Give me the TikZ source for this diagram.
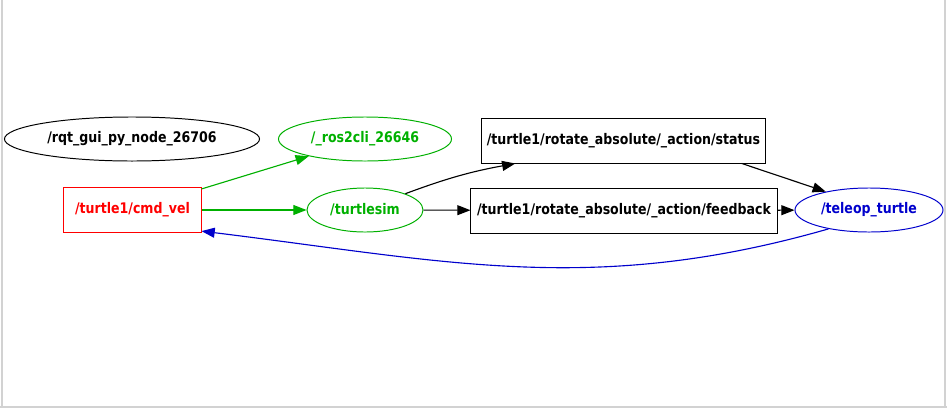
\documentclass[tikz,border=0pt]{standalone}
\usepackage{fontspec}
\setmainfont{DejaVu Sans}[FakeStretch=0.86]
\usetikzlibrary{shapes.geometric,arrows.meta}
\definecolor{rosgreen}{RGB}{0,176,0}
\definecolor{rosblue}{RGB}{0,0,204}
\definecolor{rosred}{RGB}{255,0,0}

\begin{document}
\begin{tikzpicture}[x=0.025cm, y=-0.025cm,
	every node/.style={font=\fontsize{10.4}{12}\selectfont\bfseries, inner sep=0pt},
	topic/.style={draw, rectangle, minimum height=1.125cm, line width=0.7pt},
	rosnode/.style={draw, ellipse, minimum height=1.1cm, line width=0.7pt},
	link/.style={line width=0.8pt, -{Triangle[length=3.3mm, width=2.5mm]}}]
	\useasboundingbox (0,0) rectangle (947,408);
	% window frame
	\draw[gray!35, line width=0.8pt] (2,0) -- (2,408);
	\draw[gray!35, line width=0.8pt] (945,0) -- (945,408) (0,407) -- (947,407);

	% ros nodes
	\node[rosnode, minimum width=6.375cm] (rqt) at (132,139) {/rqt\_gui\_py\_node\_26706};
	\node[rosnode, rosgreen, minimum width=4.325cm] (cli) at (365,139) {/\_ros2cli\_26646};
	\node[rosnode, rosgreen, minimum width=2.9cm] (sim) at (365,210) {/turtlesim};
	\node[rosnode, rosblue, minimum width=3.7cm] (tel) at (869,210) {/teleop\_turtle};

	% topics
	\node[topic, rosred, minimum width=3.425cm] (cmd) at (132.5,210) {/turtle1/cmd\_vel};
	\node[topic, minimum width=7.075cm] (status) at (623.5,140.5) {/turtle1/rotate\_absolute/\_action/status};
	\node[topic, minimum width=7.65cm] (fb) at (624,210.5) {/turtle1/rotate\_absolute/\_action/feedback};

	% connections
	\draw[link, rosgreen] (cmd) -- (cli);
	\draw[link, rosgreen] (cmd) -- (sim);
	\draw[link] (sim.22) to[bend left=5] (status.-168);
	\draw[link] (sim) -- (fb);
	\draw[link] (status.-11.5) -- (tel.157);
	\draw[link] (fb) -- (tel);
	\draw[link, rosblue] (tel.-155) to[out=196, in=-7] (cmd.-17);
\end{tikzpicture}
\end{document}
